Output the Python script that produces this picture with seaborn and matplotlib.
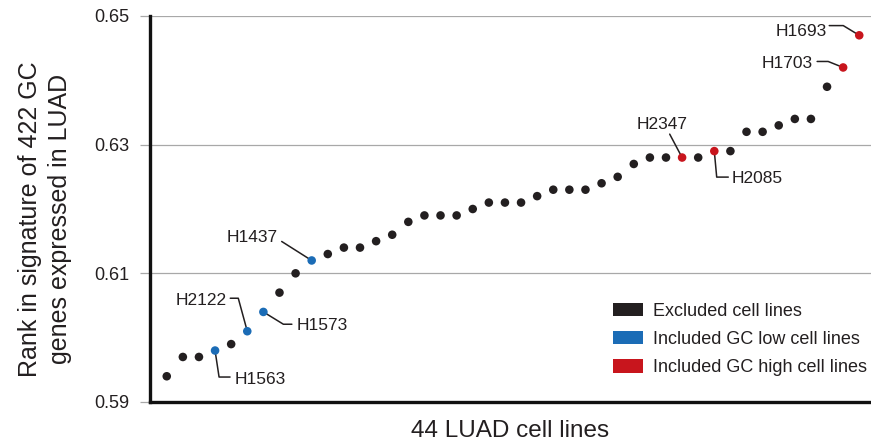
import numpy as np
import pandas as pd
import matplotlib
matplotlib.use("Agg")
import matplotlib.pyplot as plt
import matplotlib.transforms as mtransforms
from matplotlib.patches import Patch
import seaborn as sns

# ---------------- data ----------------
rank = list(range(1, 45))
score = [0.594, 0.597, 0.597, 0.598, 0.599, 0.601, 0.604, 0.607, 0.610, 0.612,
         0.613, 0.614, 0.614, 0.615, 0.616, 0.618, 0.619, 0.619, 0.619, 0.620,
         0.621, 0.621, 0.621, 0.622, 0.623, 0.623, 0.623, 0.624, 0.625, 0.627,
         0.628, 0.628, 0.628, 0.628, 0.629, 0.629, 0.632, 0.632, 0.633, 0.634,
         0.634, 0.639, 0.642, 0.647]
# E = excluded, L = included GC low, H = included GC high
group_code = ["E", "E", "E", "L", "E", "L", "L", "E", "E", "L",
              "E", "E", "E", "E", "E", "E", "E", "E", "E", "E",
              "E", "E", "E", "E", "E", "E", "E", "E", "E", "E",
              "E", "E", "H", "E", "H", "E", "E", "E", "E", "E",
              "E", "E", "H", "H"]
label_names = ["H1563", "H2122", "H1573", "H1437", "H2347", "H2085", "H1703", "H1693"]
label_ranks = [4, 6, 7, 10, 33, 35, 43, 44]
group_keys = ["E", "L", "H"]
group_names = ["Excluded cell lines", "Included GC low cell lines", "Included GC high cell lines"]
group_colors = ["#231f20", "#1b6cb6", "#c8151d"]
y_ticks = [0.59, 0.61, 0.63, 0.65]

code_to_name = dict(zip(group_keys, group_names))
df = pd.DataFrame({"rank": rank, "score": score,
                   "group": [code_to_name[c] for c in group_code]})

# label placement: text offset (pixels, y down), alignment, leader polyline (pixels, y down)
label_style = {
    "H1563": ((20, 33), "left", [(0, 0), (4, 26.5), (15, 26.5)]),
    "H2122": ((-21, -26), "right", [(-17, -33), (-9, -33), (0, 0)]),
    "H1573": ((33.5, 18.5), "left", [(0, 0), (20, 12.3), (28.5, 12.3)]),
    "H1437": ((-33.5, -18), "right", [(-30, -19), (0, 0)]),
    "H2347": ((-20, -28.7), "center", [(-12.4, -23.4), (0, 0)]),
    "H2085": ((17.7, 32.3), "left", [(0, 0), (2.4, 26), (14, 26)]),
    "H1703": ((-30.3, 1), "right", [(-26, -6), (-15, -6), (0, 0)]),
    "H1693": ((-32.3, 0.3), "right", [(-30, -9.7), (-16, -9.7), (0, 0)]),
}

# ---------------- style ----------------
sns.set_style("white")
plt.rcParams["font.family"] = ["Liberation Sans", "DejaVu Sans"]
text_color = "#231f20"

fig = plt.figure(figsize=(8.71, 4.41), dpi=100)
ax = fig.add_axes([150 / 871, 39 / 441, 721 / 871, 386 / 441])

sns.scatterplot(data=df, x="rank", y="score", hue="group", hue_order=group_names,
                palette=dict(zip(group_names, group_colors)), s=38, linewidth=0,
                legend=False, ax=ax, zorder=3, clip_on=False)

ax.set_xlim(-0.04, 44.73)
ax.set_ylim(0.59, 0.65)
ax.set_yticks(y_ticks)
ax.set_yticklabels([f"{t:.2f}" for t in y_ticks])
ax.set_xticks([])
ax.yaxis.grid(True, color="#a8a8a8", linewidth=0.9)
ax.set_axisbelow(True)
ax.tick_params(axis="y", length=7.5, width=0.9, color="#a8a8a8", pad=7,
               labelsize=13, labelcolor=text_color, left=True)

for side in ["top", "right"]:
    ax.spines[side].set_visible(False)
for side in ["left", "bottom"]:
    ax.spines[side].set_color("#111111")
    ax.spines[side].set_linewidth(2.4)
    ax.spines[side].set_zorder(4)

ax.set_xlabel("44 LUAD cell lines", fontsize=17.5, color=text_color)
ax.xaxis.set_label_coords(0.5, -0.046)
ax.set_ylabel("Rank in signature of 422 GC\ngenes expressed in LUAD", fontsize=18,
              color=text_color, linespacing=1.3)
ax.yaxis.set_label_coords(-0.108, 0.474)

# annotations
for name, r in zip(label_names, label_ranks):
    yv = score[rank.index(r)]
    (dx, dy), ha, path = label_style[name]
    ax.annotate(name, xy=(r, yv), xytext=(dx, -dy), textcoords="offset pixels",
                ha=ha, va="baseline", fontsize=12.5, color=text_color)
    trans = fig.dpi_scale_trans + mtransforms.ScaledTranslation(r, yv, ax.transData)
    px = [p[0] / 100 for p in path]
    py = [-p[1] / 100 for p in path]
    ax.plot(px, py, transform=trans, color=text_color, linewidth=1.1, zorder=2,
            clip_on=False)

ax.set_xlim(-0.04, 44.73)
ax.set_ylim(0.59, 0.65)

handles = [Patch(facecolor=c, edgecolor="none") for c in group_colors]
fig.legend(handles, group_names, loc="upper left",
           bbox_to_anchor=(612.7 / 871, 1 - 302.5 / 441), bbox_transform=fig.transFigure,
           frameon=False, fontsize=13, handlelength=1.7, handleheight=0.78,
           handletextpad=0.55, labelspacing=0.62, borderpad=0, borderaxespad=0,
           labelcolor=text_color)

fig.savefig("out.png", dpi=100)
